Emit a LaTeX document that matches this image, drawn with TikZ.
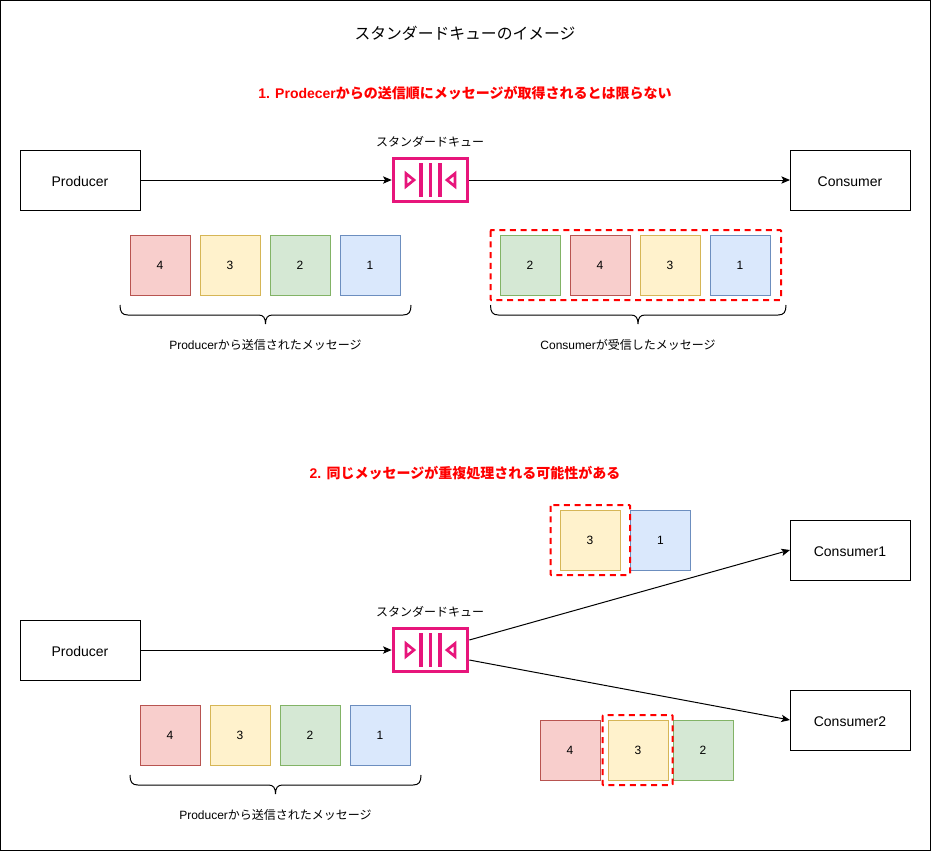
\documentclass[tikz,border=0pt]{standalone}
\usepackage{fontspec}
\setmainfont{Liberation Sans}
\newfontfamily\jp{Noto Sans CJK JP}
\usetikzlibrary{arrows.meta}

\definecolor{queuepink}{HTML}{E7157B}

\tikzset{
  box/.style={draw,rectangle,minimum width=90pt,minimum height=45pt,outer sep=0pt,line width=.75pt,text height=9.4pt,text depth=0pt,font=\fontsize{10.5}{12}\selectfont},
  msg/.style={draw,rectangle,minimum size=45pt,inner sep=0pt,outer sep=0pt,line width=.75pt,text height=7.2pt,text depth=0pt,font=\fontsize{9}{10}\selectfont},
  msg4/.style={msg,fill=red4,draw=red4line},
  msg3/.style={msg,fill=yellow3,draw=yellow3line},
  msg2/.style={msg,fill=green2,draw=green2line},
  msg1/.style={msg,fill=blue1,draw=blue1line},
  queue/.style={draw=queuepink,rectangle,line width=2.2pt,minimum width=56pt,minimum height=32.4pt,outer sep=1.1pt,inner sep=0pt},
  caption/.style={font=\fontsize{9}{11}\selectfont},
  heading/.style={text=red,font=\fontsize{10.5}{13}\selectfont\bfseries},
  dashbox/.style={draw=red,line width=1.5pt,dash pattern=on 4.5pt off 3.5pt,rounded corners=.6pt},
  link/.style={-{Stealth[length=6.5pt,width=5.5pt,inset=1.5pt]},line width=.75pt},
  curly/.style={line width=.75pt},
  queuebars/.pic={
    \draw[queuepink,line width=2.4pt]
      (-9.5,-17) -- (-9.5,17) (0,-17) -- (0,17) (9.5,-17) -- (9.5,17);
    \draw[queuepink,line width=2pt]
      (-24.5,-6.5) -- (-16.5,0) -- (-24.5,6.5) -- cycle
      (24.5,-6.5) -- (16.5,0) -- (24.5,6.5) -- cycle;
  }
}
\definecolor{red4}{HTML}{F8CECC}\definecolor{red4line}{HTML}{B85450}
\definecolor{yellow3}{HTML}{FFF2CC}\definecolor{yellow3line}{HTML}{D6B656}
\definecolor{green2}{HTML}{D5E8D4}\definecolor{green2line}{HTML}{82B366}
\definecolor{blue1}{HTML}{DAE8FC}\definecolor{blue1line}{HTML}{6C8EBF}

% left end, tip x, right end, top y
\newcommand{\curlybrace}[4]{
  \draw[curly] (#1,#4) .. controls (#1,#4+7) and (#1+2,#4+10) .. (#1+8,#4+10)
    -- (#2-7,#4+10) .. controls (#2-2,#4+10) and (#2,#4+13) .. (#2,#4+19)
    .. controls (#2,#4+13) and (#2+2,#4+10) .. (#2+7,#4+10)
    -- (#3-8,#4+10) .. controls (#3-2,#4+10) and (#3,#4+7) .. (#3,#4);
}

\begin{document}
\begin{tikzpicture}[x=.75pt,y=-.75pt]

  \useasboundingbox (0,0) rectangle (931,851);
  \draw[line width=.75pt] (0.5,0.5) rectangle (930.5,850.5);

  \node[font=\fontsize{11.85}{14}\selectfont\jp] (title) at (465,33) {スタンダードキューのイメージ};

  % 1st case
  \node[heading] (head1) at (465,93) {1. Prodecer{\jp からの送信順にメッセージが取得されるとは限らない}};

  \node[box] (prod1) at (80,180) {Producer};
  \node[box] (cons1) at (850,180) {Consumer};
  \node[queue] (queue1) at (430.5,180) {};
  \pic at (queue1) {queuebars};
  \node[caption] (qlabel1) at (430,142) {\jp スタンダードキュー};

  \draw[link] (prod1) -- (queue1);
  \draw[link] (queue1) -- (cons1);

  \node[msg4] (a4) at (160,265) {4};
  \node[msg3] (a3) at (230,265) {3};
  \node[msg2] (a2) at (300,265) {2};
  \node[msg1] (a1) at (370,265) {1};
  \curlybrace{120}{265.5}{411}{305}
  \node[caption] (sent1) at (265.5,345) {Producer{\jp から送信されたメッセージ}};

  \node[msg2] (b2) at (530,265) {2};
  \node[msg4] (b4) at (600,265) {4};
  \node[msg3] (b3) at (670,265) {3};
  \node[msg1] (b1) at (740,265) {1};
  \draw[dashbox] (490.5,230) rectangle (781,300);
  \curlybrace{490.5}{638}{786}{305}
  \node[caption] (recv1) at (628,345) {Consumer{\jp が受信したメッセージ}};

  % 2nd case
  \node[heading] (head2) at (465,473) {2. {\jp 同じメッセージが重複処理される可能性がある}};

  \node[box] (prod2) at (80,650) {Producer};
  \node[box] (cons21) at (850,550) {Consumer1};
  \node[box] (cons22) at (850,720) {Consumer2};
  \node[queue] (queue2) at (430.5,650) {};
  \pic at (queue2) {queuebars};
  \node[caption] (qlabel2) at (430,612) {\jp スタンダードキュー};

  \draw[link] (prod2) -- (queue2);
  \draw[link] ([yshift=7.5pt]queue2.east) -- (cons21.west);
  \draw[link] ([yshift=-7.5pt]queue2.east) -- (cons22.west);

  \node[msg4] (c4) at (170,735) {4};
  \node[msg3] (c3) at (240,735) {3};
  \node[msg2] (c2) at (310,735) {2};
  \node[msg1] (c1) at (380,735) {1};
  \curlybrace{130}{275.5}{421}{775}
  \node[caption] (sent2) at (275.5,815) {Producer{\jp から送信されたメッセージ}};

  \node[msg3] (d3) at (590,540) {3};
  \node[msg1] (d1) at (660.5,540) {1};
  \draw[dashbox] (550.5,505) rectangle (630,575);

  \node[msg4] (e4) at (570,750) {4};
  \node[msg3] (e3) at (638,750) {3};
  \node[msg2] (e2) at (703,750) {2};
  \draw[dashbox] (602.5,715) rectangle (672.5,785);

\end{tikzpicture}
\end{document}
